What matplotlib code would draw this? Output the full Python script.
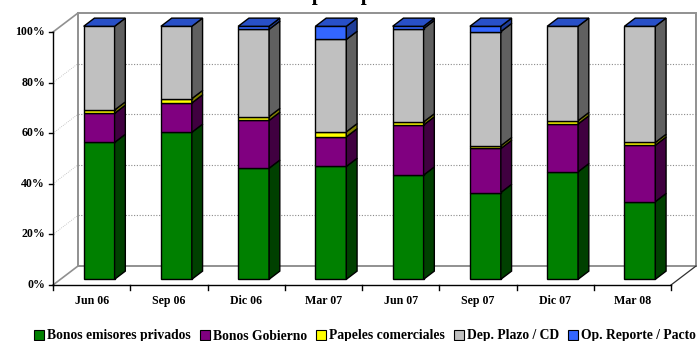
import matplotlib
matplotlib.use('Agg')
import numpy as np
import matplotlib.pyplot as plt
from matplotlib.patches import Polygon, Patch

plt.rcParams['font.family'] = ['Liberation Serif', 'DejaVu Serif']
plt.rcParams['font.weight'] = 'bold'

periodos = ['Jun 06', 'Sep 06', 'Dic 06', 'Mar 07', 'Jun 07', 'Sep 07', 'Dic 07', 'Mar 08']
series = ['Bonos emisores privados', 'Bonos Gobierno', 'Papeles comerciales',
          'Dep. Plazo / CD', 'Op. Reporte / Pacto']
privados = [54.1, 58.1, 43.9, 44.6, 41.2, 34.3, 42.5, 30.7]
gobierno = [11.5, 11.6, 18.9, 11.7, 19.8, 17.4, 18.9, 22.3]
papeles = [1.3, 1.7, 1.5, 2.0, 1.2, 1.1, 1.3, 1.1]
depositos = [33.1, 28.6, 34.5, 36.5, 36.9, 45.1, 37.3, 45.9]
pactos = [0.0, 0.0, 1.2, 5.2, 0.9, 2.1, 0.0, 0.0]
yticks = [0, 20, 40, 60, 80, 100]

frente = ['#008000', '#800080', '#FFFF00', '#C0C0C0', '#3366FF']
lado = ['#004000', '#400040', '#808000', '#606060', '#1F3D99']
techo = '#2850C8'

datos = np.array([privados, gobierno, papeles, depositos, pactos])

fig = plt.figure(figsize=(6.98, 3.41), dpi=100)
W, H = 698.0, 341.0
# front plane of the box: x 53..671 px, y 285..32 px
ax = fig.add_axes([53 / W, (H - 285) / H, (671 - 53) / W, (285 - 32) / H])
n = len(periodos)
ax.set_xlim(0, n)
ax.set_ylim(0, 100)
ax.axis('off')

# depth of the pseudo-3d box in data units
px_x = (671 - 53) / n
px_y = (285 - 32) / 100.0
DX = 25 / px_x
DY = 19 / px_y

gris = '#909090'
# back wall
ax.add_patch(Polygon([(DX, DY), (n + DX, DY), (n + DX, 100 + DY), (DX, 100 + DY)],
                     closed=True, facecolor='white', edgecolor=gris, lw=1.4, clip_on=False))
for v in yticks[1:-1]:
    ax.plot([DX, n + DX], [v + DY, v + DY], color='#8a8a8a', lw=0.8,
            ls=(0, (1, 1.5)), clip_on=False)
    ax.plot([0, DX], [v, v + DY], color='#b8b8b8', lw=0.6,
            ls=(0, (1, 1.5)), clip_on=False)
# side wall and floor edges
ax.plot([0, DX], [100, 100 + DY], color=gris, lw=1.2, clip_on=False)
ax.plot([0, DX], [0, DY], color=gris, lw=1.2, clip_on=False)
ax.plot([n, n + DX], [0, DY], color='#303030', lw=0.9, clip_on=False)

# axes lines and ticks
ax.plot([0, 0], [0, 100], color='black', lw=1.0, clip_on=False)
ax.plot([0, n], [0, 0], color='black', lw=1.0, clip_on=False)
tx = 4 / px_x
ty = 5 / px_y
for v in yticks:
    ax.plot([-tx, 0], [v, v], color='black', lw=1.0, clip_on=False)
    ax.annotate('%d%%' % v, xy=(0, v), xytext=(-8, 0), textcoords='offset pixels',
                ha='right', va='center', fontsize=8.6, fontweight='bold')
for i in range(n + 1):
    ax.plot([i, i], [0, -ty], color='black', lw=1.0, clip_on=False)
for i, p in enumerate(periodos):
    ax.annotate(p, xy=(i + 0.5, 0), xytext=(0, -16), textcoords='offset pixels',
                ha='center', va='center', fontsize=8.6, fontweight='bold')

# stacked bars with front, side and top faces
ancho = 0.4
f0, f1 = 0.3, 0.73
ddx = (f1 - f0) * DX
for i in range(n):
    x0 = i + 0.5 - ancho / 2 + f0 * DX
    x1 = x0 + ancho
    base = 0.0
    for k in range(len(series)):
        v = datos[k, i]
        if v > 0:
            b, t = base + f0 * DY, base + v + f0 * DY
            ax.add_patch(Polygon([(x0, b), (x1, b), (x1, t), (x0, t)], closed=True,
                                 facecolor=frente[k], edgecolor='black', lw=1.0,
                                 clip_on=False, zorder=3))
            ax.add_patch(Polygon([(x1, b), (x1 + ddx, b + (f1 - f0) * DY),
                                  (x1 + ddx, t + (f1 - f0) * DY), (x1, t)], closed=True,
                                 facecolor=lado[k], edgecolor='black', lw=1.0,
                                 clip_on=False, zorder=3))
        base += v
    t = base + f0 * DY
    ax.add_patch(Polygon([(x0, t), (x1, t), (x1 + ddx, t + (f1 - f0) * DY),
                          (x0 + ddx, t + (f1 - f0) * DY)], closed=True,
                         facecolor=techo, edgecolor='black', lw=1.0,
                         clip_on=False, zorder=3))

# title sits at the very top edge of the figure
fig.text(380 / W, 1.0, 'Cartera por tipo de instrumento', ha='center', va='baseline',
         fontsize=15, fontweight='bold')

handles = [Patch(facecolor=c, edgecolor='black', lw=0.8) for c in frente]
fig.legend(handles, series, loc='center left', bbox_to_anchor=(34 / W, 5 / H),
           ncol=5, frameon=False, handlelength=0.72, handleheight=0.72,
           handletextpad=0.25, columnspacing=0.65, borderpad=0, borderaxespad=0,
           prop={'size': 9.8, 'weight': 'bold'})

fig.savefig('out.png', dpi=100)
